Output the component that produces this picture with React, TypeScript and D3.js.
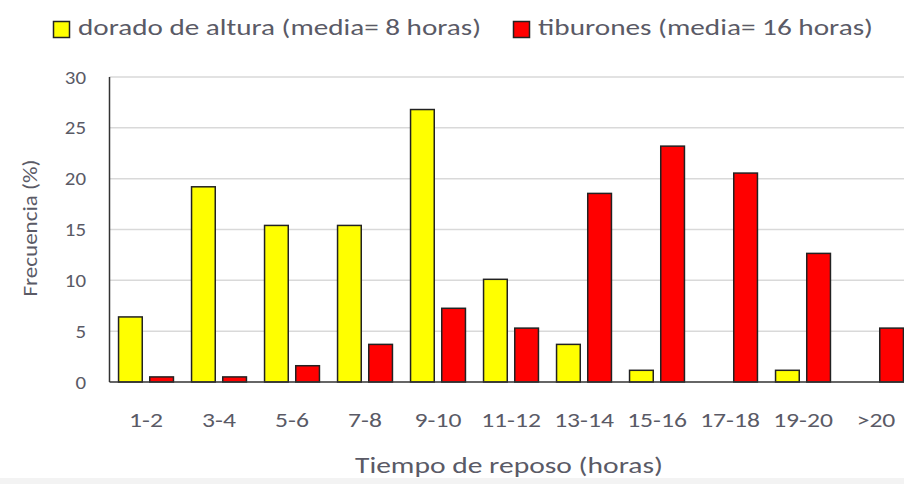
import React from "react";
import * as d3 from "d3";

const categories = ["1-2", "3-4", "5-6", "7-8", "9-10", "11-12", "13-14", "15-16", "17-18", "19-20", ">20"];
const dorado = [6.4, 19.2, 15.4, 15.4, 26.8, 10.1, 3.7, 1.15, 0, 1.15, 0];
const tiburones = [0.5, 0.5, 1.6, 3.7, 7.25, 5.3, 18.55, 23.2, 20.55, 12.65, 5.3];
const yTicks = [0, 5, 10, 15, 20, 25, 30];
const seriesNames = ["dorado de altura (media= 8 horas)", "tiburones (media= 16 horas)"];
const seriesColors = ["#ffff00", "#ff0000"];

const W = 904;
const H = 484;
const FONT = "Carlito, Calibri, Lato, sans-serif";
const TXT = "#5a5a66";

export default function App() {
  const left = 109.5;
  const right = 912.5;
  const top = 77;
  const bottom = 382;
  const x = d3.scaleBand<string>().domain(categories).range([left, right]).paddingInner(0).paddingOuter(0);
  const inner = d3.scaleBand<string>().domain(["a", "b"]).range([0, x.bandwidth()]).paddingInner(0.24).paddingOuter(0.29);
  const y = d3.scaleLinear().domain([0, 30]).range([bottom, top]);
  const series = [dorado, tiburones];
  const keys = ["a", "b"];
  return (
    <svg width={W} height={H} style={{ display: "block", position: "absolute", left: 0, top: 0 }} fontFamily={FONT}>
      <rect width={W} height={H} fill="#fff" />
      {yTicks.filter((t) => t > 0).map((t) => (
        <line key={t} x1={left} x2={W} y1={y(t)} y2={y(t)} stroke="#d9d9d9" strokeWidth={1.5} />
      ))}
      {categories.map((c, i) =>
        series.map((s, k) => {
          const v = s[i];
          if (v <= 0) return null;
          return (
            <rect
              key={c + k}
              x={(x(c) as number) + (inner(keys[k]) as number)}
              y={y(v)}
              width={inner.bandwidth()}
              height={bottom - y(v)}
              fill={seriesColors[k]}
              stroke="#222"
              strokeWidth={1.5}
            />
          );
        })
      )}
      <line x1={left} x2={left} y1={top} y2={bottom} stroke="#333" strokeWidth={1.5} />
      <line x1={left} x2={W} y1={bottom} y2={bottom} stroke="#333" strokeWidth={1.5} />
      {yTicks.map((t) => (
        <text key={t} transform={`translate(86,${y(t)}) scale(1.1,1)`} dy="0.35em" textAnchor="end" fontSize={19} fill={TXT}>
          {t}
        </text>
      ))}
      {categories.map((c) => (
        <text
          key={c}
          transform={`translate(${(x(c) as number) + x.bandwidth() / 2},426.5) scale(1.25,1)`}
          textAnchor="middle"
          fontSize={20.5}
          fill={TXT}
        >
          {c}
        </text>
      ))}
      <text x={355} y={473} fontSize={22.5} fill={TXT} textLength={308} lengthAdjust="spacingAndGlyphs">
        Tiempo de reposo (horas)
      </text>
      <text transform="translate(37,228) rotate(-90)" textAnchor="middle" fontSize={20} fill={TXT} textLength={137} lengthAdjust="spacingAndGlyphs">
        Frecuencia (%)
      </text>
      <rect x={0} y={478} width={W} height={H - 478} fill="#f3f3f3" />
      <rect x={53.5} y={21.5} width={16} height={16} fill={seriesColors[0]} stroke="#222" strokeWidth={1.5} />
      <text x={78} y={35} fontSize={23} fill={TXT} textLength={403} lengthAdjust="spacingAndGlyphs">
        {seriesNames[0]}
      </text>
      <rect x={513.5} y={21.5} width={16} height={16} fill={seriesColors[1]} stroke="#222" strokeWidth={1.5} />
      <text x={538} y={35} fontSize={23} fill={TXT} textLength={335} lengthAdjust="spacingAndGlyphs">
        {seriesNames[1]}
      </text>
    </svg>
  );
}
